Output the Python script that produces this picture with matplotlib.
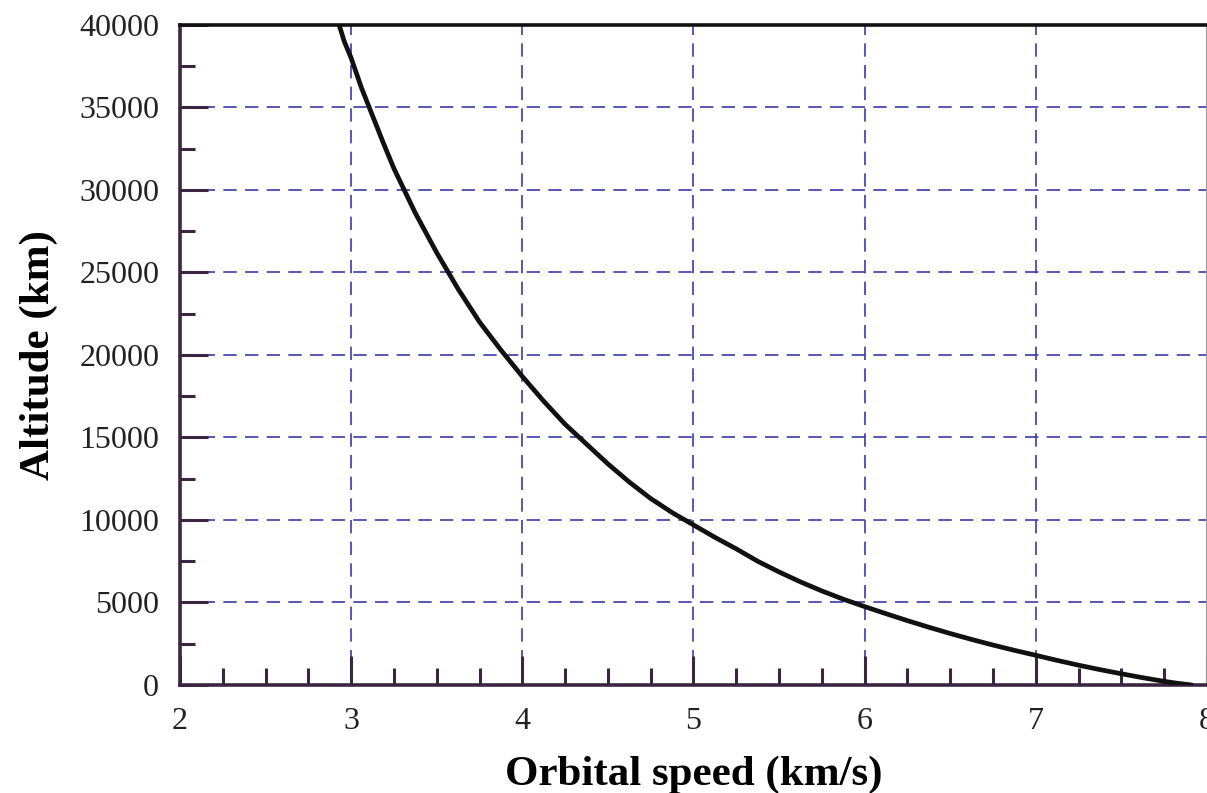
import matplotlib
matplotlib.use("Agg")
from matplotlib import pyplot as plt
from matplotlib.ticker import MultipleLocator

# values
speed = [2.93, 2.96, 3.0, 3.06, 3.125, 3.19, 3.25, 3.375, 3.5, 3.625, 3.75,
         3.875, 4.0, 4.125, 4.25, 4.375, 4.5, 4.625, 4.75, 4.875, 5.0,
         5.125, 5.25, 5.375, 5.5, 5.625, 5.75, 5.875, 6.0, 6.125, 6.25,
         6.375, 6.5, 6.625, 6.75, 6.875, 7.0, 7.125, 7.25, 7.375, 7.5,
         7.625, 7.75, 7.83, 7.91]
altitude = [40000, 39000, 38000, 36200, 34500, 32800, 31300, 28600, 26200,
            24000, 22000, 20300, 18700, 17200, 15800, 14600, 13400, 12300,
            11300, 10450, 9700, 8950, 8250, 7500, 6850, 6250, 5700, 5200,
            4750, 4320, 3900, 3500, 3120, 2760, 2420, 2100, 1800, 1490,
            1200, 930, 680, 440, 220, 100, 0]

x_ticks = [2, 3, 4, 5, 6, 7, 8]
y_ticks = [0, 5000, 10000, 15000, 20000, 25000, 30000, 35000, 40000]

plt.rcParams['font.family'] = ['Liberation Serif', 'DejaVu Serif']

fig = plt.figure(figsize=(12.07, 7.93), dpi=100)
ax = fig.add_axes([0.1491, 0.1362, 0.8509, 0.8323])

spine_col = '#3b2540'
grid_col = '#3a3aaa'

ax.plot(speed, altitude, color='#111111', linewidth=3.4,
        solid_capstyle='round', solid_joinstyle='round', zorder=3)

ax.set_xlim(2, 8)
ax.set_ylim(0, 40000)
ax.set_xticks(x_ticks)
ax.set_yticks(y_ticks)
ax.xaxis.set_minor_locator(MultipleLocator(0.25))
ax.yaxis.set_minor_locator(MultipleLocator(2500))

ax.grid(True, which='major', color=grid_col, linestyle=(0, (8, 5)), linewidth=1.2, zorder=1)

ax.tick_params(which='major', direction='in', length=21, width=2.2, color=spine_col,
               labelsize=23, labelcolor='#222222')
ax.tick_params(which='minor', direction='in', length=12, width=2.2, color=spine_col)
ax.tick_params(axis='x', which='major', pad=16)
ax.tick_params(axis='y', which='major', length=20, pad=15)
ax.tick_params(axis='y', which='minor', length=11)

for side in ['left', 'bottom']:
    ax.spines[side].set_color(spine_col)
    ax.spines[side].set_linewidth(2.6)
ax.spines['top'].set_color('#111111')
ax.spines['top'].set_linewidth(2.6)
ax.spines['right'].set_color('#999999')
ax.spines['right'].set_linewidth(1.5)

ax.set_xlabel('Orbital speed (km/s)', fontsize=31, fontweight='bold', labelpad=14)
ax.set_ylabel('Altitude (km)', fontsize=31, fontweight='bold', labelpad=15)

fig.savefig('out.png', dpi=100)
